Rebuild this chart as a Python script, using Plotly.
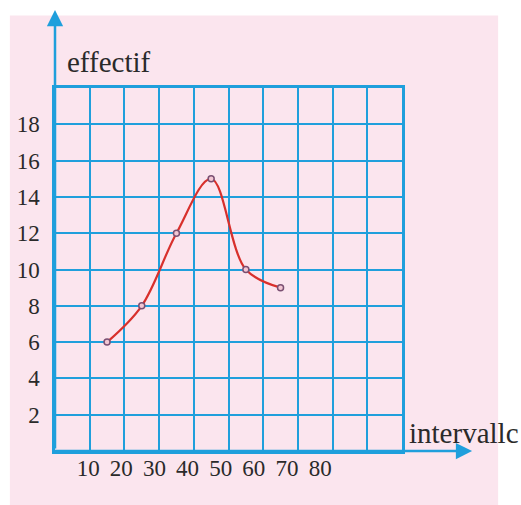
import plotly.graph_objects as go

PINK = "#fbe5ee"
BLUE = "#1f9fdc"
RED = "#d8302c"
INK = "#2a2a2a"

# data
intervalle = [15, 25, 35, 45, 55, 65]
effectif = [6, 8, 12, 15, 10, 9]

y_ticks = [2, 4, 6, 8, 10, 12, 14, 16, 18]
x_labels = [10, 20, 30, 40, 50, 60, 70, 80]

SERIF = "Liberation Serif, Times New Roman, serif"

fig = go.Figure()
fig.add_trace(
    go.Scatter(
        x=intervalle,
        y=effectif,
        mode="lines+markers",
        line=dict(color=RED, width=2.2, shape="spline", smoothing=1.0),
        marker=dict(size=6, color="#f3c6d3", line=dict(color="#7a4f72", width=1.5)),
        hoverinfo="x+y",
        showlegend=False,
    )
)
# invisible trace so the label axis (x2) is drawn
fig.add_trace(
    go.Scatter(x=x_labels, y=[None] * len(x_labels), xaxis="x2", mode="none",
               hoverinfo="skip", showlegend=False)
)

fig.update_layout(
    width=521,
    height=505,
    paper_bgcolor="white",
    plot_bgcolor=PINK,
    margin=dict(l=55, r=119, t=88, b=54),
    font=dict(family=SERIF, color=INK),
    xaxis=dict(
        range=[0, 100], dtick=10, showgrid=True, gridcolor=BLUE, gridwidth=2,
        showticklabels=False, zeroline=False,
        showline=True, linecolor=BLUE, linewidth=2.5, mirror=True,
        fixedrange=True,
    ),
    xaxis2=dict(
        overlaying="x", anchor="y", side="bottom", range=[0, 104.7],
        tickvals=x_labels, showgrid=False, zeroline=False, showline=False,
        tickfont=dict(size=23, family=SERIF, color=INK), ticklabelstandoff=1,
        fixedrange=True,
    ),
    yaxis=dict(
        range=[0, 20], tickvals=y_ticks, showgrid=True, gridcolor=BLUE, gridwidth=2,
        zeroline=False, showline=True, linecolor=BLUE, linewidth=2.5, mirror=True,
        tickfont=dict(size=23, family=SERIF, color=INK), ticklabelstandoff=8,
        fixedrange=True,
    ),
    shapes=[
        dict(type="rect", xref="paper", yref="paper", layer="below",
             x0=-0.13, x1=1.277, y0=-0.2, y1=1.2, fillcolor=PINK, line=dict(width=0)),
    ],
    annotations=[
        # vertical axis arrow
        dict(x=0, y=1.215, xref="x domain", yref="y domain", ax=0, ay=440,
             axref="pixel", ayref="pixel", showarrow=True, arrowhead=2,
             arrowsize=1.3, arrowwidth=2.5, arrowcolor=BLUE, text=""),
        # horizontal axis arrow
        dict(x=1.202, y=0, xref="x domain", yref="y domain", ax=-420, ay=0,
             axref="pixel", ayref="pixel", showarrow=True, arrowhead=2,
             arrowsize=1.3, arrowwidth=2.5, arrowcolor=BLUE, text=""),
        dict(x=0.029, y=1.072, xref="x domain", yref="y domain", text="effectif",
             showarrow=False, xanchor="left", yanchor="middle",
             font=dict(size=29, family=SERIF, color=INK)),
        dict(x=1.014, y=0.05, xref="x domain", yref="y domain", text="intervallc",
             showarrow=False, xanchor="left", yanchor="middle",
             font=dict(size=29, family=SERIF, color=INK)),
    ],
)

# drop the default body margin so the figure fills the window exactly
fig.write_html(
    "out.html",
    config={"displayModeBar": False},
    post_script="document.body.style.margin='0';document.body.style.overflow='hidden';",
)
